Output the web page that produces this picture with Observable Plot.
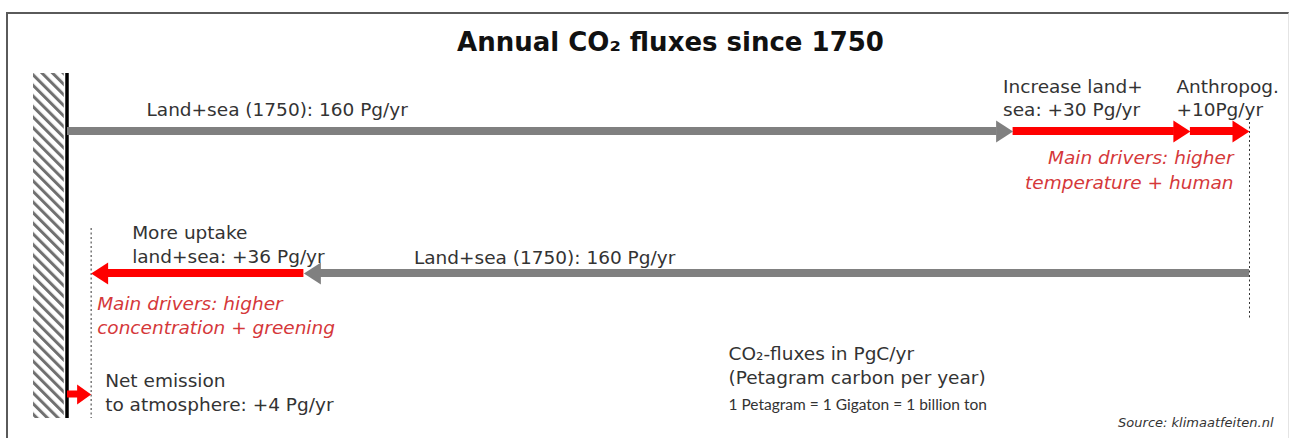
<!DOCTYPE html>
<html>
<head>
<meta charset="utf-8">
<script src="https://cdn.jsdelivr.net/npm/d3@7"></script>
<script src="https://cdn.jsdelivr.net/npm/@observablehq/plot@0.6"></script>
<style>
  body { margin: 0; background: #fff; width: 1289px; height: 438px; overflow: hidden; position: relative; font-family: "DejaVu Sans", sans-serif; }
  #frame { position: absolute; left: 6px; top: 12px; width: 1283px; height: 426px; border-left: 2px solid #5a5a5a; border-top: 2px solid #5a5a5a; border-right: 1px solid #e4e4e4; box-sizing: border-box; pointer-events: none; }
  #title { height: 65px; box-sizing: border-box; padding-top: 27px; padding-left: 52px; line-height: 30px; text-align: center; font-weight: bold; font-size: 26px; color: #111; }
  #chart svg { display: block; }
  #chart svg text.lbl { letter-spacing: 0.3px; }
</style>
</head>
<body>
<div id="title">Annual CO₂ fluxes since 1750</div>
<div id="chart"></div>
<div id="frame"></div>
<script>
// ---- data ----
const outgoingNames = ["Land+sea (1750)", "Increase land+sea", "Anthropogenic"];
const outgoingValues = [160, 30, 10];
const outgoingLabels = ["Land+sea (1750): 160 Pg/yr", "Increase land+\nsea: +30 Pg/yr", "Anthropog.\n+10Pg/yr"];
const uptakeNames = ["Land+sea (1750)", "More uptake land+sea"];
const uptakeValues = [160, 36];
const uptakeLabels = ["Land+sea (1750): 160 Pg/yr", "More uptake\nland+sea: +36 Pg/yr"];
const netNames = ["Net emission to atmosphere"];
const netValues = [4];
const netLabels = ["Net emission\nto atmosphere: +4 Pg/yr"];
const driverNotes = ["Main drivers: higher\ntemperature + human", "Main drivers: higher\nconcentration + greening"];
const unitNotes = ["CO₂-fluxes in PgC/yr\n(Petagram carbon per year)", "1 Petagram = 1 Gigaton = 1 billion ton"];
const sourceNote = "Source: klimaatfeiten.nl";

// ---- styles / layout ----
const GRAY = "#808080", RED = "#ff0000", NOTE_RED = "#d5383a", TEXT = "#333";
const laneY = {out: 66, in: 208, net: 329};
const W = 1289, H = 373;

// ---- build segments from data ----
let acc = 0;
const outSegs = outgoingValues.map((v, i) => {
  const s = {name: outgoingNames[i], from: acc, to: acc + v, label: outgoingLabels[i], y: laneY.out, color: i === 0 ? GRAY : RED};
  acc += v; return s;
});
const total = acc;
let pos = total;
const upSegs = uptakeValues.map((v, i) => {
  const s = {name: uptakeNames[i], from: pos, to: pos - v, label: uptakeLabels[i], y: laneY.in, color: i === 0 ? GRAY : RED};
  pos -= v; return s;
});
const netSegs = netValues.map((v, i) => ({name: netNames[i], from: 0, to: v, label: netLabels[i], y: laneY.net, color: RED}));

const headRight = {draw(c) { c.moveTo(0, 0); c.lineTo(-17, -11); c.lineTo(-17, 11); c.closePath(); }};
const headLeft = {draw(c) { c.moveTo(0, 0); c.lineTo(17, -11); c.lineTo(17, 11); c.closePath(); }};
const headSmall = {draw(c) { c.moveTo(0, 0); c.lineTo(-14, -10); c.lineTo(-14, 10); c.closePath(); }};

const lab = {fontSize: 18.5, fill: TEXT, textAnchor: "start", lineAnchor: "bottom", className: "lbl"};
const note = {fontSize: 18.5, fill: NOTE_RED, fontStyle: "italic", lineAnchor: "bottom", lineHeight: 1.3, className: "lbl"};

const chart = Plot.plot({
  width: W, height: H,
  marginLeft: 67, marginRight: 40, marginTop: 0, marginBottom: 0,
  x: {domain: [0, 200], axis: null},
  y: {domain: [0, H], range: [0, H], axis: null},
  color: {type: "identity"},
  style: {fontFamily: "DejaVu Sans, sans-serif", background: "transparent"},
  marks: [
    // wall
    Plot.rect([0], {x1: -5.75, x2: -0.55, y1: 8, y2: 353, fill: "url(#hatch)"}),
    Plot.ruleX([0], {y1: 8, y2: 353, stroke: "#000", strokeWidth: 3.5, dx: -0.5}),
    // dotted guides
    Plot.ruleX([total], {y1: 57, y2: 253, stroke: "#333", strokeWidth: 1, strokeDasharray: "2,2.5"}),
    Plot.ruleX([netValues[0]], {y1: 163, y2: 353, stroke: "#333", strokeWidth: 1, strokeDasharray: "2,2.5"}),
    // outgoing arrows (rightward)
    Plot.rect(outSegs, {x1: "from", x2: "to", y1: d => d.y - 4, y2: d => d.y + 4, fill: "color", insetRight: 16}),
    Plot.dot(outSegs, {x: "to", y: "y", symbol: headRight, fill: "color", stroke: null}),
    // uptake arrows (leftward)
    Plot.rect(upSegs, {x1: "to", x2: "from", y1: d => d.y - 4, y2: d => d.y + 4, fill: "color", insetLeft: 16}),
    Plot.dot(upSegs, {x: "to", y: "y", symbol: headLeft, fill: "color", stroke: null}),
    // net emission arrow
    Plot.rect(netSegs, {x1: "from", x2: "to", y1: d => d.y - 3.5, y2: d => d.y + 3.5, fill: "color", insetRight: 12}),
    Plot.dot(netSegs, {x: "to", y: "y", symbol: headSmall, fill: "color", stroke: null}),
    // labels
    Plot.text([outSegs[0]], {...lab, x: "from", y: 50, text: "label", dx: 79}),
    Plot.text([outSegs[1]], {...lab, x: "from", y: 50, text: "label", dx: -10, lineHeight: 1.2}),
    Plot.text([outSegs[2]], {...lab, x: "from", y: 50, text: "label", dx: -14, lineHeight: 1.2}),
    Plot.text([driverNotes[0]], {...note, x: total, y: 123, text: d => d, textAnchor: "end", dx: -16}),
    Plot.text([upSegs[0]], {...lab, x: "to", y: 198, text: "label", dx: 110}),
    Plot.text([upSegs[1]], {...lab, x: "to", y: 197, text: "label", dx: 41, lineHeight: 1.25}),
    Plot.text([driverNotes[1]], {...note, x: netValues[0], y: 268, text: d => d, textAnchor: "start", dx: 6, lineHeight: 1.27}),
    Plot.text([netSegs[0]], {...lab, x: "to", y: 345, text: "label", dx: 14, lineHeight: 1.25}),
    Plot.text([unitNotes[0]], {...lab, frameAnchor: "left", y: 318, text: d => d, dx: 661, lineHeight: 1.25}),
    Plot.text([unitNotes[1]], {frameAnchor: "left", y: 344, text: d => d, dx: 661, textAnchor: "start", lineAnchor: "bottom", fill: TEXT, fontSize: 15.5, fontFamily: "Lato, sans-serif"}),
    Plot.text([sourceNote], {frameAnchor: "right", y: 361, text: d => d, dx: 24, textAnchor: "end", lineAnchor: "bottom", fontSize: 13, fontStyle: "italic", fill: "#333"})
  ]
});

d3.select(chart).insert("defs", ":first-child").html(
  `<pattern id="hatch" patternUnits="userSpaceOnUse" width="7.5" height="7.5" patternTransform="rotate(-45)">` +
  `<rect width="7.5" height="7.5" fill="#fff"/><rect width="3" height="7.5" fill="#707070"/></pattern>`
);
document.getElementById("chart").appendChild(chart);
</script>
</body>
</html>
